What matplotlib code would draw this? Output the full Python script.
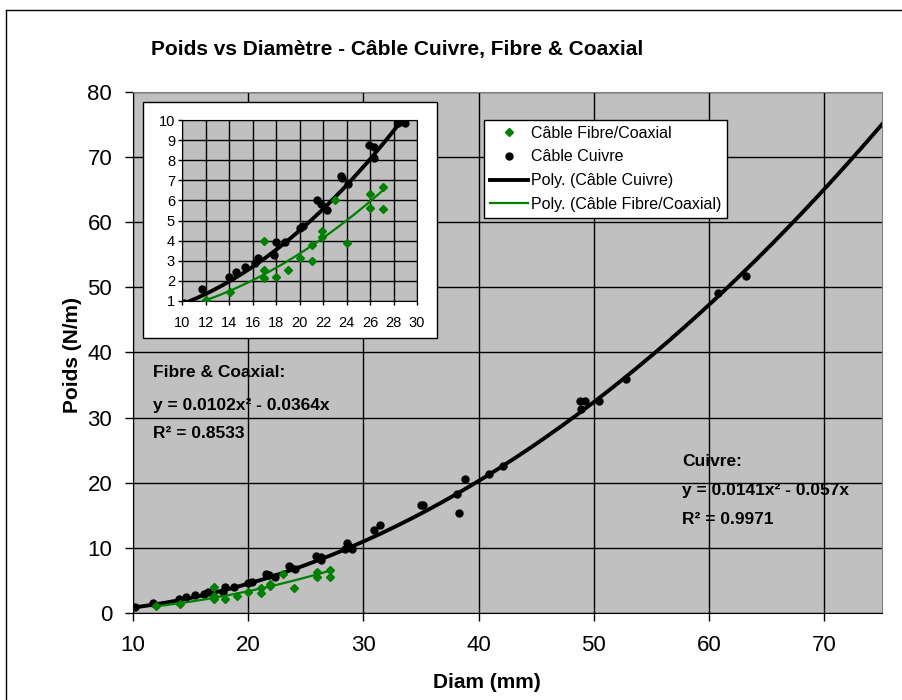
#!/usr/bin/env python3
"""
Poids vs Diametre - cable cuivre, fibre & coaxial (Excel-style scatter with trend lines)
"""

import matplotlib
matplotlib.use('Agg')
import matplotlib.pyplot as plt
from matplotlib.lines import Line2D
from matplotlib.patches import Rectangle
import numpy as np

plt.rcParams['font.family'] = ['Liberation Sans', 'DejaVu Sans']

# Câble Cuivre measurements (diam mm, poids N/m)
cuivre_diam = [10.2, 11.7, 14.0, 14.6, 15.4, 16.2, 16.5, 17.8, 18.0, 18.8,
               20.0, 20.3, 21.5, 21.8, 22.3, 23.5, 23.6, 24.1, 25.9, 26.3,
               26.3, 28.4, 28.6, 28.8, 29.0, 30.9, 31.4, 35.0, 35.2, 38.1,
               38.3, 38.8, 40.9, 42.1, 48.8, 48.9, 49.2, 50.4, 52.8, 60.8, 63.2]
cuivre_poids = [0.9, 1.6, 2.2, 2.45, 2.7, 2.9, 3.15, 3.3, 3.95, 3.95,
                4.65, 4.75, 6.0, 5.8, 5.5, 7.2, 7.1, 6.8, 8.75, 8.65,
                8.1, 9.85, 10.8, 10.2, 9.85, 12.8, 13.5, 16.6, 16.6, 18.2,
                15.4, 20.6, 21.3, 22.5, 32.6, 31.3, 32.6, 32.5, 36.0, 49.2, 51.8]

# Câble Fibre/Coaxial measurements
fibre_diam = [12.0, 14.1, 17.0, 17.0, 17.0, 18.0, 19.0, 20.0, 21.1, 21.1,
              21.9, 21.9, 23.0, 24.0, 26.0, 26.0, 27.1, 27.1]
fibre_poids = [1.05, 1.45, 4.0, 2.55, 2.15, 2.2, 2.55, 3.15, 3.0, 3.8,
               4.5, 4.2, 6.0, 3.9, 6.3, 5.6, 5.55, 6.65]

# Excel trend line coefficients (x^2, x, const)
cuivre_coef = [0.0141, -0.057, 0.0]
fibre_coef = [0.0102, -0.0364, 0.0]
cuivre_r2 = 0.9971
fibre_r2 = 0.8533

GRAY = '#C0C0C0'
GREEN = '#008000'

fig = plt.figure(figsize=(9.02, 7.0), dpi=100)

# outer chart border (left and top visible)
fig.add_artist(Line2D([6/902, 6/902], [0, 1 - 10/700], color='black', lw=1,
                      transform=fig.transFigure))
fig.add_artist(Line2D([6/902, 1], [1 - 10/700, 1 - 10/700], color='black', lw=1,
                      transform=fig.transFigure))

# main plot
ax = fig.add_axes([133/902, 1 - 613/700, 749/902, 521/700])
ax.set_facecolor(GRAY)

xs_cu = np.linspace(10, 75, 200)
xs_fi = np.linspace(min(fibre_diam), max(fibre_diam), 100)

ax.plot(cuivre_diam, cuivre_poids, 'o', color='black', ms=5, zorder=3)
ax.plot(fibre_diam, fibre_poids, 'D', color=GREEN, ms=4.5, zorder=4)
ax.plot(xs_cu, np.polyval(cuivre_coef, xs_cu), color='black', lw=2.8, zorder=3)
ax.plot(xs_fi, np.polyval(fibre_coef, xs_fi), color=GREEN, lw=1.6, zorder=4)

ax.set_xlim(10, 75)
ax.set_ylim(0, 80)
ax.set_xticks(np.arange(10, 71, 10))
ax.set_yticks(np.arange(0, 81, 10))
ax.grid(True, color='black', lw=1)
ax.set_axisbelow(True)
ax.tick_params(axis='both', labelsize=16, length=6, width=1, color='black')
ax.tick_params(axis='x', pad=10)
ax.tick_params(axis='y', pad=9)
for s in ax.spines.values():
    s.set_color('#808080')
ax.spines['left'].set_color('black')
ax.spines['bottom'].set_color('black')

fig.text(397/902, 1 - 50/700, 'Poids vs Diamètre - Câble Cuivre, Fibre & Coaxial',
         ha='center', va='center', fontsize=15, fontweight='bold')
fig.text(72/902, 1 - 355/700, 'Poids (N/m)', rotation=90, ha='center', va='center',
         fontsize=15, fontweight='bold')
fig.text(487/902, 1 - 682/700, 'Diam (mm)', ha='center', va='center',
         fontsize=15, fontweight='bold')

# trend line equations
eq_kw = dict(transform=fig.transFigure, fontsize=12.5, fontweight='bold', ha='left', va='center')
fig.text(153/902, 1 - 373/700, 'Fibre & Coaxial:', **eq_kw)
fig.text(153/902, 1 - 405/700, f'y = {fibre_coef[0]}x² - {abs(fibre_coef[1])}x', **eq_kw)
fig.text(153/902, 1 - 433/700, f'R² = {fibre_r2}', **eq_kw)
fig.text(682/902, 1 - 461/700, 'Cuivre:', **eq_kw)
fig.text(682/902, 1 - 490/700, f'y = {cuivre_coef[0]}x² - {abs(cuivre_coef[1])}x', **eq_kw)
fig.text(682/902, 1 - 520/700, f'R² = {cuivre_r2}', **eq_kw)

# legend
handles = [
    Line2D([], [], ls='none', marker='D', color=GREEN, ms=4.5),
    Line2D([], [], ls='none', marker='o', color='black', ms=5),
    Line2D([], [], color='black', lw=2.8),
    Line2D([], [], color=GREEN, lw=1.6),
]
labels = ['Câble Fibre/Coaxial', 'Câble Cuivre', 'Poly. (Câble Cuivre)',
          'Poly. (Câble Fibre/Coaxial)']
leg = ax.legend(handles, labels, loc='upper left',
                bbox_to_anchor=(484/902, 1 - 120/700), bbox_transform=fig.transFigure,
                fancybox=False, edgecolor='black', framealpha=1, fontsize=11.5,
                borderaxespad=0, borderpad=0.35, handlelength=2.4, handletextpad=0.2,
                labelspacing=0.55)
leg.get_frame().set_linewidth(1)

# inset (zoom on small diameters)
fig.add_artist(Rectangle((143/902, 1 - 338/700), 294/902, 236/700,
                         transform=fig.transFigure, facecolor='white',
                         edgecolor='black', lw=1, zorder=1))
axi = fig.add_axes([182/902, 1 - 301/700, 235/902, 181/700])
axi.set_zorder(2)
axi.set_facecolor(GRAY)
axi.plot(xs_cu, np.polyval(cuivre_coef, xs_cu), color='black', lw=2.8, zorder=3)
axi.plot(xs_fi, np.polyval(fibre_coef, xs_fi), color=GREEN, lw=1.6, zorder=4)
axi.plot(cuivre_diam, cuivre_poids, 'o', color='black', ms=5, zorder=3)
axi.plot(fibre_diam, fibre_poids, 'D', color=GREEN, ms=4, zorder=4)
axi.set_xlim(10, 30)
axi.set_ylim(1, 10)
axi.set_xticks(np.arange(10, 31, 2))
axi.set_yticks(np.arange(1, 11, 1))
axi.grid(True, color='black', lw=1)
axi.set_axisbelow(True)
axi.tick_params(axis='both', labelsize=10.5, length=3, width=1, color='black')
axi.tick_params(axis='x', pad=8)
axi.tick_params(axis='y', pad=2)
for s in axi.spines.values():
    s.set_color('black')

fig.savefig('out.png', dpi=100, facecolor='white')
